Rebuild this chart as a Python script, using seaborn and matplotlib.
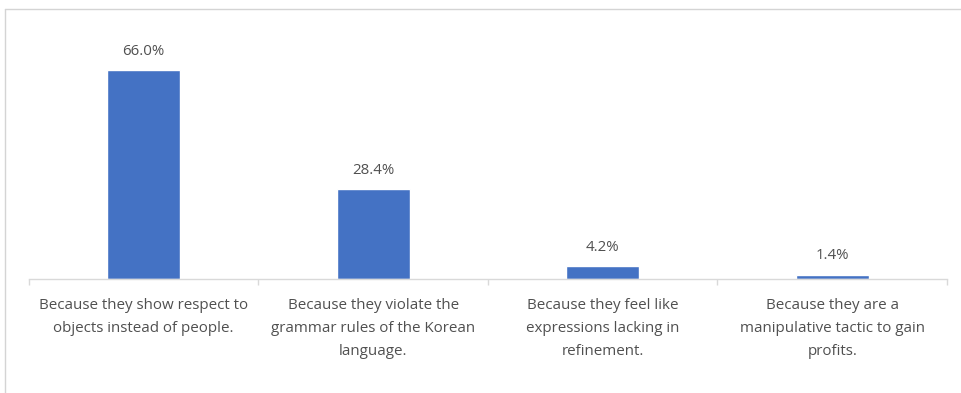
import numpy as np
import pandas as pd
import matplotlib.pyplot as plt
import seaborn as sns
from matplotlib.lines import Line2D

# reasons and share of respondents (%)
reasons = [
    "Because they show respect to\nobjects instead of people.",
    "Because they violate the\ngrammar rules of the Korean\nlanguage.",
    "Because they feel like\nexpressions lacking in\nrefinement.",
    "Because they are a\nmanipulative tactic to gain\nprofits.",
]
shares = [66.0, 28.4, 4.2, 1.4]

bar_color = "#4472C4"
text_color = "#505050"
axis_color = "#D9D9D9"

sns.set_theme(style="white")
plt.rcParams['font.family'] = ['Open Sans', 'DejaVu Sans']

W, H = 962, 393
fig = plt.figure(figsize=(W / 100, H / 100), dpi=100)
# axes placed in pixel terms: baseline at y=279, x from 29 to 947
ax = fig.add_axes([29 / W, 1 - 279 / H, (947 - 29) / W, (279 - 40) / H])

df = pd.DataFrame({"reason": reasons, "share": shares})
sns.barplot(data=df, x="reason", y="share", color=bar_color, saturation=1,
            width=0.32, ax=ax)

ax.set_xlim(-0.5, len(reasons) - 0.5)
ax.set_ylim(0, 75.5)

for c in ax.containers:
    ax.bar_label(c, labels=[f"{v:.1f}%" for v in shares], padding=8,
                 fontsize=10.8, color=text_color)

for s in ["top", "right", "left"]:
    ax.spines[s].set_visible(False)
ax.spines["bottom"].set_color(axis_color)
ax.spines["bottom"].set_linewidth(1)

ax.set_yticks([])
ax.set_xlabel("")
ax.set_ylabel("")
ax.set_xticks(np.arange(-0.5, len(reasons)), minor=True)
ax.tick_params(axis="x", which="major", length=0, pad=13.5, labelsize=10.9,
               labelcolor=text_color)
ax.tick_params(axis="x", which="minor", length=4, width=1, color=axis_color,
               bottom=True, direction="out")
for lbl in ax.get_xticklabels():
    lbl.set_linespacing(1.74)
    lbl.set_ha("center")

# light frame lines (top and left edge of the source chart box)
fig.add_artist(Line2D([5 / W, 1], [1 - 9 / H, 1 - 9 / H], transform=fig.transFigure,
                      color="#D4D4D4", lw=1))
fig.add_artist(Line2D([5 / W, 5 / W], [0, 1 - 9 / H], transform=fig.transFigure,
                      color="#D4D4D4", lw=1))

fig.savefig("out.png", dpi=100, facecolor="white")
